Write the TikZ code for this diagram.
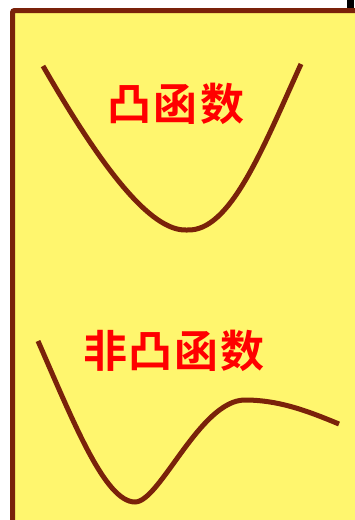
\documentclass[tikz,border=0pt]{standalone}
\usepackage{fontspec}
\newfontfamily\cjk{Noto Sans CJK SC}[BoldFont={Noto Sans CJK SC Bold}]
\definecolor{bgyellow}{RGB}{255,246,110}
\definecolor{brownline}{RGB}{122,34,10}
\begin{document}
\begin{tikzpicture}[x=1pt,y=-1pt,
  curve/.style={draw=brownline,line width=5pt},
  label/.style={text=red,font=\cjk\bfseries\fontsize{44}{44}\selectfont,inner sep=0pt}]
\useasboundingbox (0,0) rectangle (354,520);
\fill[white] (0,0) rectangle (354,520);
\draw[fill=bgyellow,draw=brownline,line width=5pt,rounded corners=2pt] (12.5,10.5) rectangle (370,540);
\fill[black] (347,0) rectangle (354,8);
\draw[curve] (43,66) .. controls (100,165) and (150,232) .. (187,230)
  .. controls (230,232) and (262,150) .. (301,64);
\draw[curve] (38,341) .. controls (73,421) and (105,502) .. (135,502)
  .. controls (160,502) and (200,400) .. (245,400)
  .. controls (280,400) and (310,412) .. (339,424);
\node[label] (t1) at (176,104) {凸\hspace{3pt}函\hspace{3pt}数};
\node[label] (t2) at (174,351) {非\hspace{2pt}凸\hspace{2pt}函\hspace{2pt}数};
\end{tikzpicture}
\end{document}
